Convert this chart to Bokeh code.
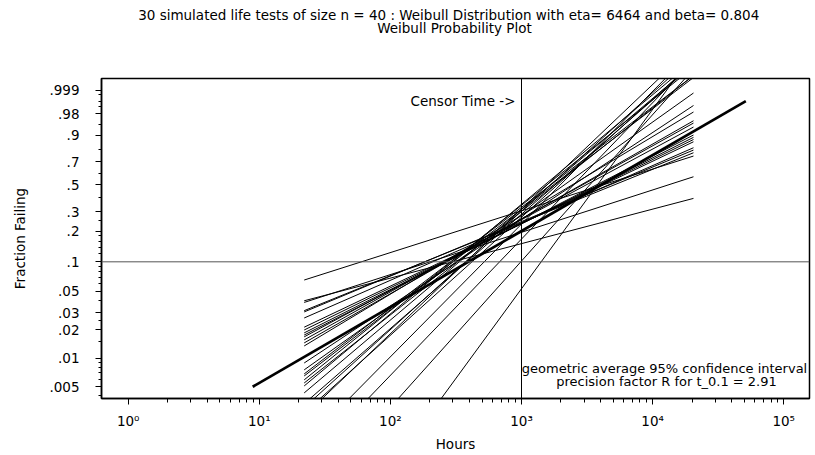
import numpy as np
from bokeh.plotting import figure
from bokeh.layouts import column
from bokeh.models import (Range1d, FixedTicker, CustomJSTickFormatter, Span, Label,
                          ColumnDataSource)
from bokeh.embed import file_html
from bokeh.resources import INLINE

# ---------------- data ----------------
title_line1 = "30 simulated life tests of size n =  40 : Weibull Distribution with eta= 6464  and beta= 0.804"
title_line2 = "Weibull Probability Plot"

true_eta = 6464.0
true_beta = 0.804
true_t = [8.9, 51400.0]

# Weibull fits of the 30 simulated life tests (eta, beta)
fit_eta = [9768, 141300, 30460, 9929, 9023, 8558, 7376, 6992, 6664, 6308,
           5141, 4740, 4575, 3821, 3747, 3101, 2379, 2491, 2186, 2538,
           2078, 2284, 2462, 2248, 2534, 2080, 2578, 3237, 4221, 4623]
fit_beta = [0.442, 0.365, 0.448, 0.563, 0.577, 0.607, 0.661, 0.679, 0.697, 0.713,
            0.748, 0.773, 0.792, 0.834, 0.918, 0.987, 1.064, 1.064, 1.115, 1.096,
            1.160, 1.173, 1.210, 1.254, 1.250, 1.319, 1.405, 1.443, 1.549, 1.898]
fit_t = [22.0, 20500.0]

censor_time = 1000.0
ref_fraction = 0.1

y_tick_p = [0.005, 0.01, 0.02, 0.03, 0.05, 0.1, 0.2, 0.3, 0.5, 0.7, 0.9, 0.98, 0.999]
y_tick_labels = [".005", ".01", ".02", ".03", ".05", ".1", ".2", ".3", ".5", ".7", ".9", ".98", ".999"]
y_minor_p = [0.004, 0.006, 0.007, 0.008, 0.009, 0.015, 0.025, 0.04, 0.06, 0.07, 0.08, 0.09,
             0.12, 0.14, 0.16, 0.18, 0.25, 0.4, 0.6, 0.8, 0.95, 0.99, 0.995, 0.998]

x_tick_values = [1, 10, 100, 1000, 10000, 100000]
x_tick_labels = ["10\u2070", "10\u00b9", "10\u00b2", "10\u00b3", "10\u2074", "10\u2075"]
x_minor_values = [m * d for d in [1, 10, 100, 1000, 10000] for m in range(2, 10)]

note_line1 = "geometric average 95% confidence interval"
note_line2 = "precision factor R for t_0.1 = 2.91"
censor_text = "Censor Time ->"


def wb(p):
    """Weibull probability-paper transform."""
    return np.log10(-np.log1p(-np.asarray(p, dtype=float)))


FONT = "DejaVu Sans"
FS = "13.5px"
W = 815
TOP_H = 40
FL, FR = 101, 809  # frame left / right in page pixels

# ---------------- title strip ----------------
pt = figure(width=W, height=TOP_H, x_range=Range1d(FL, FR), y_range=Range1d(0, TOP_H),
            output_backend="svg", toolbar_location=None,
            x_axis_location=None, y_axis_location=None,
            min_border_left=FL, min_border_right=W - FR,
            min_border_top=0, min_border_bottom=0)
pt.xgrid.visible = False
pt.ygrid.visible = False
pt.outline_line_color = None
pt.background_fill_color = "white"
pt.border_fill_color = "white"
for txt, x, y in [(title_line1, 452.5, TOP_H - 14), (title_line2, 454, TOP_H - 27.3)]:
    pt.add_layout(Label(x=x, y=y, text=txt, text_font=FONT, text_font_size=FS,
                        text_color="black", text_align="center", text_baseline="middle"))

# ---------------- main plot ----------------
p = figure(width=W, height=455 - TOP_H, x_axis_type="log",
           x_range=Range1d(0.6254, 157300), y_range=Range1d(-2.4244, 0.9634),
           output_backend="svg", toolbar_location=None,
           min_border_left=FL, min_border_right=W - FR, min_border_top=78 - TOP_H,
           min_border_bottom=57)
p.xgrid.visible = False
p.ygrid.visible = False
p.background_fill_color = "white"
p.border_fill_color = "white"
p.outline_line_color = "black"
p.outline_line_width = 1.5
p.outline_line_alpha = 1.0

# fitted lines
lt0, lt1 = np.log10(fit_t[0]), np.log10(fit_t[1])
eta = np.array(fit_eta, dtype=float)
beta = np.array(fit_beta, dtype=float)
src = ColumnDataSource(dict(
    x0=[fit_t[0]] * len(eta), x1=[fit_t[1]] * len(eta),
    y0=beta * (lt0 - np.log10(eta)), y1=beta * (lt1 - np.log10(eta))))
p.segment(x0="x0", y0="y0", x1="x1", y1="y1", source=src, line_color="black", line_width=1)

# true distribution
tt = np.array(true_t)
p.line(tt, true_beta * (np.log10(tt) - np.log10(true_eta)), line_color="black", line_width=2.7)

p.add_layout(Span(location=censor_time, dimension="height", line_color="black", line_width=1))
p.add_layout(Span(location=float(wb(ref_fraction)), dimension="width", line_color="#555555", line_width=1))

# axes
yt = [float(v) for v in wb(y_tick_p)]
p.yaxis.ticker = FixedTicker(ticks=yt, minor_ticks=[float(v) for v in wb(y_minor_p)])
p.yaxis.formatter = CustomJSTickFormatter(args=dict(vals=yt, labels=y_tick_labels), code="""
let best = 0, d = Infinity;
for (let i = 0; i < vals.length; i++) { const e = Math.abs(vals[i] - tick); if (e < d) { d = e; best = i; } }
return labels[best];
""")
p.xaxis.ticker = FixedTicker(ticks=x_tick_values, minor_ticks=x_minor_values)
p.xaxis.formatter = CustomJSTickFormatter(args=dict(vals=x_tick_values, labels=x_tick_labels), code="""
let best = 0, d = Infinity;
for (let i = 0; i < vals.length; i++) { const e = Math.abs(Math.log10(vals[i]) - Math.log10(tick)); if (e < d) { d = e; best = i; } }
return labels[best];
""")

for ax in (p.xaxis[0], p.yaxis[0]):
    ax.axis_line_color = "black"
    ax.axis_line_width = 1.5
    ax.major_tick_line_color = "black"
    ax.minor_tick_line_color = "black"
    ax.major_tick_in = 0
    ax.minor_tick_in = 0
    ax.major_tick_out = 6
    ax.major_label_text_font = FONT
    ax.major_label_text_font_size = FS
    ax.major_label_text_color = "black"
    ax.axis_label_text_font = FONT
    ax.axis_label_text_font_size = FS
    ax.axis_label_text_font_style = "normal"
    ax.axis_label_text_color = "black"

p.yaxis.minor_tick_out = 3
p.yaxis.major_label_standoff = 16
p.yaxis.axis_label = "Fraction Failing"
p.yaxis.axis_label_standoff = 18
p.xaxis.minor_tick_out = 4
p.xaxis.major_label_standoff = 8
p.xaxis.axis_label = "Hours"
p.xaxis.axis_label_standoff = 4


def lab(text, x, y, align="center", size=FS):
    p.add_layout(Label(x=x, y=y, x_units="screen", y_units="screen", text=text,
                       text_font=FONT, text_font_size=size, text_color="black",
                       text_align=align, text_baseline="middle"))


lab(censor_text, 414, 297.3, "right")
lab(note_line1, 563, 30.3, size="13px")
lab(note_line2, 565, 17, size="13px")

layout = column(pt, p, spacing=0)
open("out.html", "w").write(file_html(layout, INLINE))
